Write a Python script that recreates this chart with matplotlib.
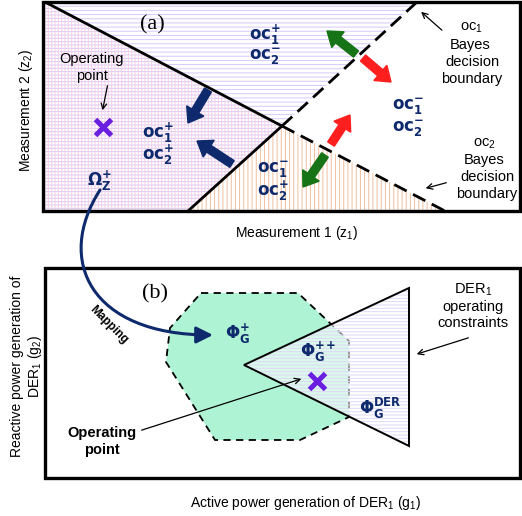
import matplotlib
matplotlib.use("Agg")
import matplotlib.pyplot as plt
from matplotlib.patches import Polygon, FancyArrow, FancyArrowPatch
from matplotlib.path import Path

plt.rcParams['font.family'] = ['Liberation Sans', 'DejaVu Sans']
plt.rcParams['mathtext.fontset'] = 'custom'
plt.rcParams['mathtext.rm'] = 'Liberation Sans'
plt.rcParams['mathtext.it'] = 'Liberation Sans'
plt.rcParams['mathtext.bf'] = 'Liberation Sans:bold'
plt.rcParams['mathtext.sf'] = 'DejaVu Sans:bold'
plt.rcParams['hatch.linewidth'] = 0.7

# --- diagram geometry (pixel space of the 522x516 picture) ---
box_a = [(43, 2), (520, 2), (520, 211), (43, 211)]
box_b = [(45, 268), (520, 268), (520, 478), (45, 478)]

cross = (282, 126)                      # where the two boundaries meet
oc2_solid = [(45, 2), cross]
oc2_dashed = [cross, (445, 211)]
oc1_solid = [(188, 211), cross]
oc1_dashed = [cross, (417, 2)]

region_left = [(43, 2), (45, 2), cross, (188, 211), (43, 211)]
region_top = [(45, 2), (417, 2), cross]
region_low = [(188, 211), cross, (445, 211)]

octagon = [(201, 293), (298, 293), (349, 341), (349, 417),
           (300, 440), (215, 440), (166, 362), (170, 328)]
der_triangle = [(244, 365), (409, 288), (409, 446)]

# fat arrows: (tail, tip, colour)
navy = '#0e2a6c'
green = '#167416'
red = '#ff1f1f'
fat_arrows = [((208, 90), (188, 123), navy),
              ((232, 164), (197, 141), navy),
              ((356, 54), (327, 31), green),
              ((363, 58), (391, 82), red),
              ((331, 144), (350, 115), red),
              ((325, 155), (303, 187), green)]

# labels: (text, x, y)
oc_labels = [(r'$\mathsf{oc^{+}_{1}}$', 265, 35), (r'$\mathsf{oc^{-}_{2}}$', 265, 57),
             (r'$\mathsf{oc^{+}_{1}}$', 158, 133), (r'$\mathsf{oc^{+}_{2}}$', 158, 155),
             (r'$\mathsf{oc^{-}_{1}}$', 408, 107), (r'$\mathsf{oc^{-}_{2}}$', 408, 129),
             (r'$\mathsf{oc^{-}_{1}}$', 273, 170), (r'$\mathsf{oc^{+}_{2}}$', 273, 191),
             (r'$\mathsf{Ω^{+}_{Z}}$', 99, 181),
             (r'$\mathsf{Φ^{+}_{G}}$', 238, 334),
             (r'$\mathsf{Φ^{++}_{G}}$', 318, 352),
             (r'$\mathsf{Φ^{DER}_{G}}$', 380, 408)]

op_points = [(103, 127), (317, 381)]
mapping_curve = [(100, 190), (55, 260), (90, 335), (213, 335)]

fig = plt.figure(figsize=(5.22, 5.16), dpi=100)
ax = fig.add_axes([0, 0, 1, 1])
ax.set_xlim(0, 522)
ax.set_ylim(516, 0)
ax.axis('off')


def hatched(pts, face, hatch=None, hcolor=None, alpha=1.0, z=1):
    ax.add_patch(Polygon(pts, closed=True, facecolor=face, edgecolor='none',
                         alpha=alpha, zorder=z))
    if hatch:
        ax.add_patch(Polygon(pts, closed=True, facecolor='none', edgecolor=hcolor,
                             hatch=hatch, linewidth=0, zorder=z))


def seg(pts, lw=2.0, dashes=None, color='black', z=3):
    xs = [p[0] for p in pts]
    ys = [p[1] for p in pts]
    line, = ax.plot(xs, ys, '-', lw=lw, color=color, zorder=z, solid_capstyle='butt')
    if dashes:
        line.set_dashes(dashes)


# ---- panel (a) ----
hatched(region_left, 'white', '-----', '#d9c8f7', z=1)
hatched(region_left, 'none', '|||||', '#f3d0e3', z=1)
hatched(region_top, 'white', '----', '#d8c8fa', z=1)
hatched(region_low, 'white', '||||', '#eebf9c', z=1)

seg(oc2_solid)
seg(oc1_solid)
seg(oc2_dashed, dashes=(5, 2.6))
seg(oc1_dashed, dashes=(5, 2.6))
ax.add_patch(Polygon(box_a, closed=True, fill=False, lw=2.4, edgecolor='black', zorder=4))

for tail, tip, col in fat_arrows:
    ax.add_patch(FancyArrow(tail[0], tail[1], tip[0] - tail[0], tip[1] - tail[1],
                            width=8, head_width=20, head_length=14,
                            length_includes_head=True, color=col, zorder=5))

ax.text(152, 25, '(a)', fontsize=16, family='Liberation Serif', ha='center', va='center')
ax.text(92, 59, 'Operating', fontsize=10.5, ha='center', va='center')
ax.text(92, 76, 'point', fontsize=10.5, ha='center', va='center')
ax.annotate('', xy=(102, 113), xytext=(108, 83),
            arrowprops=dict(arrowstyle='->', lw=0.9, color='black'))

ax.text(471, 28, 'oc$_1$', fontsize=10.5, ha='center', va='center')
ax.text(470, 45, 'Bayes', fontsize=10.5, ha='center', va='center')
ax.text(472, 62, 'decision', fontsize=10.5, ha='center', va='center')
ax.text(472, 79, 'boundary', fontsize=10.5, ha='center', va='center')
ax.annotate('', xy=(419, 10), xytext=(444, 32),
            arrowprops=dict(arrowstyle='->', lw=0.9, color='black'))

ax.text(484, 144, 'oc$_2$', fontsize=10.5, ha='center', va='center')
ax.text(484, 160, 'Bayes', fontsize=10.5, ha='center', va='center')
ax.text(487, 177, 'decision', fontsize=10.5, ha='center', va='center')
ax.text(487, 194, 'boundary', fontsize=10.5, ha='center', va='center')
ax.annotate('', xy=(423, 189), xytext=(449, 182),
            arrowprops=dict(arrowstyle='->', lw=0.9, color='black'))

ax.text(297, 233, 'Measurement 1 (z$_1$)', fontsize=10, ha='center', va='center')
ax.text(26, 110, 'Measurement 2 (z$_2$)', fontsize=10, ha='center', va='center',
        rotation=90)

# ---- panel (b) ----
ax.add_patch(Polygon(octagon, closed=True, facecolor='#aef3d4', edgecolor='none', zorder=1))
ax.add_patch(Polygon(octagon, closed=True, fill=False, edgecolor='black', lw=1.3,
                     linestyle=(0, (4, 3)), zorder=2))
hatched(der_triangle, 'white', '-----', '#e0d8f6', alpha=0.55, z=3)
ax.add_patch(Polygon(der_triangle, closed=True, fill=False, edgecolor='black', lw=1.4,
                     zorder=4))
ax.add_patch(Polygon(box_b, closed=True, fill=False, lw=2.4, edgecolor='black', zorder=4))

ax.text(155, 294, '(b)', fontsize=16, family='Liberation Serif', ha='center', va='center')
ax.text(102, 433, 'Operating', fontsize=10.5, fontweight='bold', ha='center', va='center')
ax.text(102, 450, 'point', fontsize=10.5, fontweight='bold', ha='center', va='center')
ax.annotate('', xy=(304, 378), xytext=(139, 431),
            arrowprops=dict(arrowstyle='->', lw=0.9, color='black'), zorder=6)

ax.text(473, 290, 'DER$_1$', fontsize=10.5, ha='center', va='center')
ax.text(473, 307, 'operating', fontsize=10.5, ha='center', va='center')
ax.text(473, 323, 'constraints', fontsize=10.5, ha='center', va='center')
ax.annotate('', xy=(414, 355), xytext=(471, 337),
            arrowprops=dict(arrowstyle='->', lw=0.9, color='black'))

ax.text(306, 503, 'Active power generation of DER$_1$ (g$_1$)', fontsize=10,
        ha='center', va='center')
ax.text(27, 366, 'Reactive power generation of\nDER$_1$ (g$_2$)', fontsize=10,
        ha='center', va='center', rotation=90, linespacing=1.1)

ax.text(109, 325, 'Mapping', fontsize=8.5, fontweight='bold', ha='center', va='center',
        rotation=-45)

# mapping arrow from Omega+ to Phi+
codes = [Path.MOVETO, Path.CURVE4, Path.CURVE4, Path.CURVE4]
ax.add_patch(FancyArrowPatch(path=Path(mapping_curve, codes),
                             arrowstyle='-|>,head_length=1.0,head_width=0.5',
                             mutation_scale=10, lw=2.2, color=navy, zorder=6))

# labels and operating points
for txt, x, y in oc_labels:
    ax.text(x, y, txt, fontsize=12, color=navy, ha='center', va='center', zorder=7)
for x, y in op_points:
    ax.plot(x, y, marker='x', markersize=11, markeredgewidth=3.6, color='#6a1ee0', zorder=7)

fig.savefig('out.png', dpi=100)
